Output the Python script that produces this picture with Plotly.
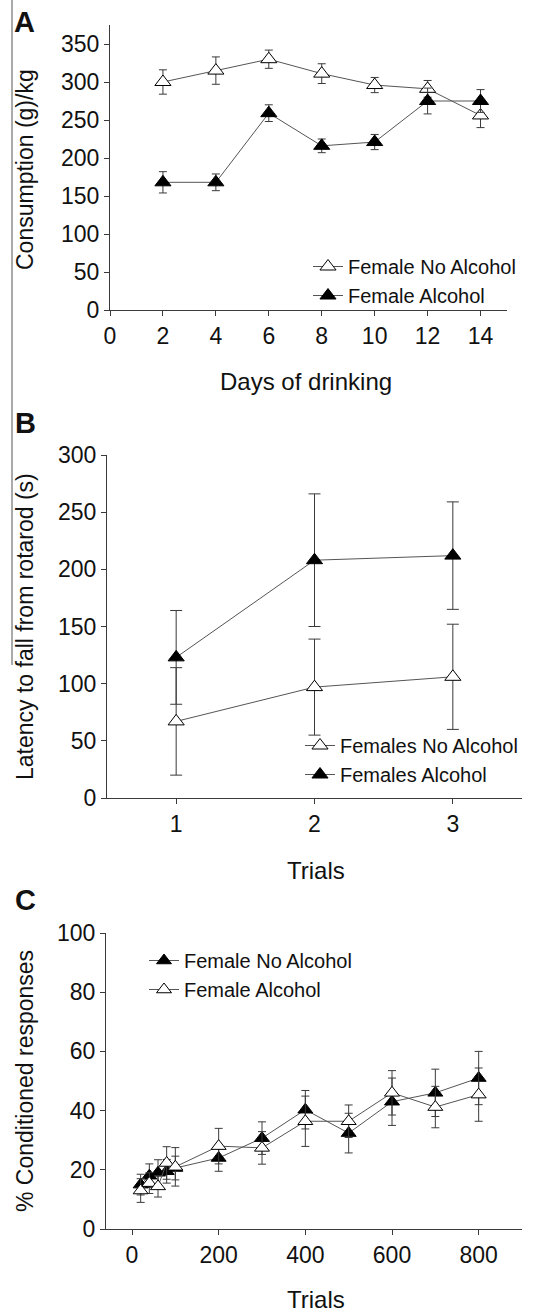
import plotly.graph_objects as go

W, H = 539, 1312

# ---------------- Panel A data ----------------
days = [2, 4, 6, 8, 10, 12, 14]
a_noalc = [300, 315, 330, 311, 296, 291, 256]
a_noalc_err = [16, 18, 12, 13, 10, 11, 16]
a_alc = [168, 168, 259, 216, 221, 275, 275]
a_alc_err = [14, 11, 11, 9, 10, 17, 15]
a_xticks = [0, 2, 4, 6, 8, 10, 12, 14]
a_yticks = [0, 50, 100, 150, 200, 250, 300, 350]

# ---------------- Panel B data ----------------
trials_b = [1, 2, 3]
b_noalc = [67, 97, 106]
b_noalc_err = [47, 42, 46]
b_alc = [123, 208, 212]
b_alc_err = [41, 58, 47]
b_xticks = [1, 2, 3]
b_yticks = [0, 50, 100, 150, 200, 250, 300]

# ---------------- Panel C data ----------------
trials_c = [20, 40, 60, 80, 100, 200, 300, 400, 500, 600, 700, 800]
c_noalc = [15, 18, 19, 19.5, 20.6, 24, 30.7, 40.3, 32.4, 43, 46, 51]
c_noalc_err = [3.5, 4, 4.4, 4, 4, 4.5, 5.5, 6.5, 6.7, 8, 8, 9]
c_alc = [13, 15.5, 14.4, 22.3, 21, 28, 27.4, 36.4, 36.4, 46, 41.2, 45.4]
c_alc_err = [4, 3.5, 3.6, 5.5, 6.5, 6, 5.5, 8.5, 5.5, 7.5, 7, 9]
c_xticks = [0, 200, 400, 600, 800]
c_yticks = [0, 20, 40, 60, 80, 100]

FONT = "Liberation Sans, Arial, sans-serif"
AX = "#3a3a3a"
LINE = "#555555"


def px(x):
    return x / W


def py(y):
    return 1 - y / H


def series(x, y, err, filled, name, xa, ya, legend, size, cap):
    return go.Scatter(
        x=x, y=y, name=name, mode="lines+markers",
        xaxis=xa, yaxis=ya, legend=legend,
        line=dict(color=LINE, width=1),
        marker=dict(symbol="triangle-up", size=size,
                    color="black" if filled else "white",
                    line=dict(color="black", width=1)),
        error_y=dict(type="data", array=err, visible=True,
                     color=AX, thickness=1, width=cap),
    )


fig = go.Figure()
# Panel A
fig.add_trace(series(days, a_noalc, a_noalc_err, False, "Female No Alcohol", "x", "y", "legend", 14, 4))
fig.add_trace(series(days, a_alc, a_alc_err, True, "Female Alcohol", "x", "y", "legend", 14, 4))
# Panel B
fig.add_trace(series(trials_b, b_noalc, b_noalc_err, False, "Females No Alcohol", "x2", "y2", "legend2", 14, 6))
fig.add_trace(series(trials_b, b_alc, b_alc_err, True, "Females Alcohol", "x2", "y2", "legend2", 14, 6))
# Panel C
fig.add_trace(series(trials_c, c_noalc, c_noalc_err, True, "Female No Alcohol", "x3", "y3", "legend3", 13, 4))
fig.add_trace(series(trials_c, c_alc, c_alc_err, False, "Female Alcohol", "x3", "y3", "legend3", 13, 4))

axis_common = dict(
    showline=True, linecolor=AX, linewidth=1, ticks="outside", ticklen=5,
    tickcolor=AX, tickwidth=1, showgrid=False, zeroline=False, automargin=False,
    tickfont=dict(family=FONT, size=23, color="#111"),
)

LEGFONT = dict(family=FONT, size=20, color="#111")

fig.update_layout(
    width=W, height=H, autosize=False,
    margin=dict(l=0, r=0, t=0, b=0, pad=0, autoexpand=False),
    paper_bgcolor="white", plot_bgcolor="white",
    font=dict(family=FONT, color="#111"),
    xaxis=dict(domain=[px(110), px(507)], range=[0, 15], tickvals=a_xticks,
               anchor="y", **axis_common),
    yaxis=dict(domain=[py(310), py(25)], range=[0, 375], tickvals=a_yticks,
               anchor="x", **axis_common),
    xaxis2=dict(domain=[px(107), px(522)], range=[0.5, 3.5], tickvals=b_xticks,
                anchor="y2", **axis_common),
    yaxis2=dict(domain=[py(798), py(455)], range=[0, 300], tickvals=b_yticks,
                anchor="x2", **axis_common),
    xaxis3=dict(domain=[px(106), px(522)], range=[-60, 900], tickvals=c_xticks,
                anchor="y3", **axis_common),
    yaxis3=dict(domain=[py(1229), py(933)], range=[0, 100], tickvals=c_yticks,
                anchor="x3", **axis_common),
    legend=dict(x=px(308), y=py(247), xanchor="left", yanchor="top",
                bgcolor="rgba(0,0,0,0)", font=LEGFONT),
    legend2=dict(x=px(300), y=py(726), xanchor="left", yanchor="top",
                 bgcolor="rgba(0,0,0,0)", font=LEGFONT),
    legend3=dict(x=px(144), y=py(941), xanchor="left", yanchor="top",
                 bgcolor="rgba(0,0,0,0)", font=LEGFONT),
    showlegend=True,
)

annots = [
    # panel letters
    dict(text="<b>A</b>", x=px(12), y=py(22), xanchor="left", yanchor="middle", font=dict(size=29)),
    dict(text="<b>B</b>", x=px(13), y=py(423), xanchor="left", yanchor="middle", font=dict(size=29)),
    dict(text="<b>C</b>", x=px(13), y=py(900), xanchor="left", yanchor="middle", font=dict(size=29)),
    # axis titles
    dict(text="Consumption (g)/kg", x=px(25), y=py(170), textangle=-90, font=dict(size=23)),
    dict(text="Days of drinking", x=px(306), y=py(381), font=dict(size=24)),
    dict(text="Latency to fall from rotarod (s)", x=px(25), y=py(627), textangle=-90, font=dict(size=23)),
    dict(text="Trials", x=px(316), y=py(871), font=dict(size=24)),
    dict(text="% Conditioned responses", x=px(25), y=py(1081), textangle=-90, font=dict(size=23)),
    dict(text="Trials", x=px(316), y=py(1299), font=dict(size=24)),
]
for a in annots:
    a.setdefault("xanchor", "center")
    a.setdefault("yanchor", "middle")
    a["font"] = dict(family=FONT, color="#111", **a["font"])
    fig.add_annotation(xref="paper", yref="paper", showarrow=False, **a)

# thin frame line at the left edge of the upper panels
fig.add_shape(type="line", xref="paper", yref="paper",
              x0=px(12), x1=px(12), y0=py(0), y1=py(665),
              line=dict(color="#555", width=1))

fig.write_html("out.html", config={"displayModeBar": False},
               post_script="document.body.style.margin='0';")
